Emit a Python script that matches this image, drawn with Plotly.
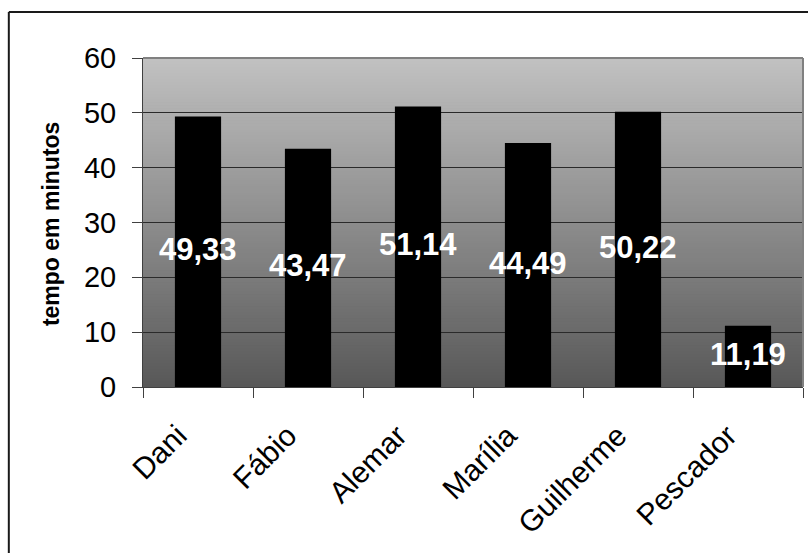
import plotly.graph_objects as go

categories = ["Dani", "Fábio", "Alemar", "Marília", "Guilherme", "Pescador"]
values = [49.33, 43.47, 51.14, 44.49, 50.22, 11.19]
y_ticks = [0, 10, 20, 30, 40, 50, 60]
y_title = "tempo em minutos"

FONT = "Liberation Sans, Arial, sans-serif"

fig = go.Figure()
fig.add_trace(go.Bar(
    x=categories, y=values, width=0.42,
    marker=dict(color="#000000", line=dict(width=0)),
    hoverinfo="x+y",
))

# bar value labels (white, bold, centered in bar)
for c, v in zip(categories, values):
    fig.add_annotation(
        x=c, y=v / 2, text=f"{v:.2f}".replace(".", ","),
        showarrow=False, xanchor="center", yanchor="middle", yshift=2,
        font=dict(family=FONT, size=31, color="#ffffff", weight="bold"),
    )

# y axis title
fig.add_annotation(
    xref="paper", yref="paper", x=-0.139, y=0.496, text=f"<b>{y_title}</b>",
    showarrow=False, textangle=-90, xanchor="center", yanchor="middle",
    font=dict(family=FONT, size=23, color="#000000"),
)

shapes = []
# gradient background of plot area
N = 110
top, bot = 193, 88
for i in range(N):
    t = (i + 0.5) / N
    g = int(round(bot + (top - bot) * t))
    shapes.append(dict(
        type="rect", xref="x domain", yref="y domain",
        x0=0, x1=1, y0=i / N, y1=(i + 1) / N + 0.002,
        fillcolor=f"rgb({g},{g},{g})", line=dict(width=0), layer="below",
    ))
# top and right plot border (gray)
shapes.append(dict(type="line", xref="x domain", yref="y domain", x0=0, x1=1, y0=1, y1=1,
                   line=dict(color="#808080", width=2), layer="above"))
shapes.append(dict(type="line", xref="x domain", yref="y domain", x0=1, x1=1, y0=0, y1=1,
                   line=dict(color="#808080", width=2), layer="above"))
# outer chart border (top and left visible)
shapes.append(dict(type="line", xref="paper", yref="paper", x0=-0.2033, x1=1.2, y0=1.1398, y1=1.1398,
                   line=dict(color="#1a1a1a", width=2)))
shapes.append(dict(type="line", xref="paper", yref="paper", x0=-0.2033, x1=-0.2033, y0=-1, y1=1.1398,
                   line=dict(color="#1a1a1a", width=2)))

fig.update_layout(
    width=808, height=553,
    margin=dict(l=143, r=5, t=58, b=166),
    paper_bgcolor="#ffffff", plot_bgcolor="#a0a0a0",
    showlegend=False,
    shapes=shapes,
    font=dict(family=FONT, color="#000000"),
    xaxis=dict(
        tickangle=-45, tickson="boundaries", ticks="outside", ticklen=10,
        tickcolor="#404040", tickwidth=1,
        showline=True, linecolor="#404040", linewidth=1,
        tickfont=dict(family=FONT, size=30, color="#000000"),
        ticklabelshift=-20, ticklabelstandoff=18,
        showgrid=False,
    ),
    yaxis=dict(
        range=[0, 60], tickvals=y_ticks, ticks="outside", ticklen=10,
        tickcolor="#404040", tickwidth=1,
        showline=True, linecolor="#404040", linewidth=1,
        showgrid=True, gridcolor="#2a2a2a", gridwidth=1,
        tickfont=dict(family=FONT, size=29, color="#000000"),
        ticklabelstandoff=10,
        zeroline=False,
    ),
)

fig.write_html("out.html")
